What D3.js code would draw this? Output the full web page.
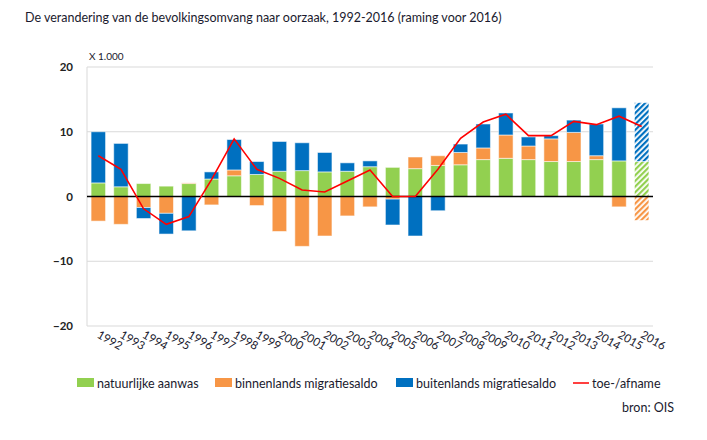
<!DOCTYPE html>
<html>
<head>
<meta charset="UTF-8">
<title></title>
<script src="https://cdn.jsdelivr.net/npm/d3@7"></script>
<style>
    body{margin:0;background:#fff;}
    text{font-family:Lato,"Open Sans",sans-serif;fill:#1a1a2e;}
    .grid line{stroke:#d9d9d9;stroke-width:1px;}
    .bar{stroke:rgba(255,255,255,0.55);stroke-width:1px;}
</style>
</head>
<body>
<div id="chart"></div>
<script>
    var years=['1992','1993','1994','1995','1996','1997','1998','1999','2000','2001','2002','2003','2004',
        '2005','2006','2007','2008','2009','2010','2011','2012','2013','2014','2015','2016'];
    // natuurlijke aanwas
    var natuurlijk=[2.1,1.5,2.0,1.6,2.0,2.7,3.2,3.4,3.9,4.0,3.8,3.9,4.6,4.5,4.3,4.8,4.9,5.7,5.9,5.7,5.4,5.4,5.7,5.5,5.4];
    // binnenlands migratiesaldo
    var binnenlands=[-3.8,-4.3,-1.7,-2.6,0.1,-1.3,0.9,-1.4,-5.4,-7.7,-6.1,-3.0,-1.6,-0.4,1.8,1.5,1.9,1.8,3.6,2.1,3.5,4.5,0.6,-1.6,-3.7];
    // buitenlands migratiesaldo
    var buitenlands=[7.9,6.7,-1.7,-3.2,-5.3,1.1,4.7,2.0,4.6,4.3,3.0,1.3,0.9,-4.0,-6.1,-2.2,1.3,3.7,3.4,1.4,0.5,1.9,4.9,8.2,9.1];
    // toe-/afname
    var totaal=[6.3,4.2,-1.9,-4.3,-3.1,2.6,8.9,4.2,2.8,1.0,0.7,2.4,4.1,0.0,0.0,4.2,9.0,11.5,12.7,9.4,9.4,11.6,11.1,12.4,10.8];
    var yTicks=[-20,-10,0,10,20];
    var ramingJaar='2016';

    var seriesKeys=['natuurlijk','binnenlands','buitenlands'];
    var seriesNames=['natuurlijke aanwas','binnenlands migratiesaldo','buitenlands migratiesaldo'];
    var colors=['#92d050','#f79646','#0070c0'];

    var rows=years.map(function(y,i){
        return {jaar:y,natuurlijk:natuurlijk[i],binnenlands:binnenlands[i],buitenlands:buitenlands[i],totaal:totaal[i]};
    });

    var width=707,height=440;
    var margin={left:87,right:54,top:67,bottom:114};

    var svg=d3.select('#chart').append('svg')
            .attr('width',width)
            .attr('height',height);

    var defs=svg.append('defs');
    colors.forEach(function(c,i){
        var p=defs.append('pattern')
                .attr('id','hatch'+i)
                .attr('patternUnits','userSpaceOnUse')
                .attr('width',4).attr('height',4)
                .attr('patternTransform','rotate(45)');
        p.append('rect').attr('width',4).attr('height',4).attr('fill','#fff');
        p.append('rect').attr('width',2.2).attr('height',4).attr('fill',c);
    });

    var x=d3.scaleBand()
            .domain(years)
            .range([margin.left,width-margin.right])
            .paddingInner(0.36)
            .paddingOuter(0.18);
    var y=d3.scaleLinear()
            .domain([-20,20])
            .range([height-margin.bottom,margin.top]);

    // title
    svg.append('text')
            .attr('x',25).attr('y',22)
            .style('font-size','12.5px')
            .text('De verandering van de bevolkingsomvang naar oorzaak, 1992-2016 (raming voor 2016)');
    svg.append('text')
            .attr('x',89).attr('y',60)
            .style('font-size','10px')
            .text('X 1.000');

    // grid
    var grid=svg.append('g').attr('class','grid');
    grid.selectAll('line')
            .data(yTicks.filter(function(d){return d!==0;}))
            .enter().append('line')
            .attr('x1',margin.left).attr('x2',width-margin.right)
            .attr('y1',function(d){return y(d);})
            .attr('y2',function(d){return y(d);});
    svg.append('line')
            .attr('x1',margin.left).attr('x2',margin.left)
            .attr('y1',y(20)).attr('y2',y(-20))
            .style('stroke','#d9d9d9');

    var yAxis=d3.axisLeft(y).tickValues(yTicks).tickSize(0).tickPadding(14);
    var ga=svg.append('g').attr('transform','translate('+margin.left+',0)').call(yAxis);
    ga.select('.domain').remove();
    ga.selectAll('text').style('font-size','11.5px').style('font-weight','bold').style('fill','#222');

    // stacked bars
    var stack=d3.stack().keys(seriesKeys).offset(d3.stackOffsetDiverging);
    var stacked=stack(rows);

    var layers=svg.selectAll('g.layer')
            .data(stacked)
            .enter().append('g')
            .attr('class','layer');
    layers.each(function(s,si){
        d3.select(this).selectAll('rect')
                .data(s)
                .enter().append('rect')
                .attr('class','bar')
                .attr('x',function(d){return x(d.data.jaar);})
                .attr('width',x.bandwidth())
                .attr('y',function(d){return y(Math.max(d[0],d[1]));})
                .attr('height',function(d){return Math.abs(y(d[0])-y(d[1]));})
                .attr('fill',function(d){
                    return d.data.jaar===ramingJaar?'url(#hatch'+si+')':colors[si];
                });
    });

    // zero line
    svg.append('line')
            .attr('x1',margin.left).attr('x2',width-margin.right)
            .attr('y1',y(0)).attr('y2',y(0))
            .style('stroke','#000').style('stroke-width',1.5);

    // line
    var line=d3.line()
            .x(function(d){return x(d.jaar)+x.bandwidth()/2;})
            .y(function(d){return y(d.totaal);});
    svg.append('path')
            .datum(rows)
            .attr('d',line)
            .attr('fill','none')
            .attr('stroke','#ff0000')
            .attr('stroke-width',1.6);

    // x labels
    svg.selectAll('text.xlab')
            .data(years)
            .enter().append('text')
            .attr('class','xlab')
            .attr('text-anchor','start')
            .style('font-size','11.5px')
            .attr('transform',function(d){
                return 'translate('+(x(d)+x.bandwidth()/2-2)+',337) rotate(30)';
            })
            .text(function(d){return d;});

    // legend
    var legend=[
        {name:seriesNames[0],color:colors[0],x:77,type:'rect'},
        {name:seriesNames[1],color:colors[1],x:215,type:'rect'},
        {name:seriesNames[2],color:colors[2],x:396,type:'rect'},
        {name:'toe-/afname',color:'#ff0000',x:573,type:'line'}
    ];
    var lg=svg.selectAll('g.leg')
            .data(legend)
            .enter().append('g')
            .attr('class','leg')
            .attr('transform',function(d){return 'translate('+d.x+',383)';});
    lg.filter(function(d){return d.type==='rect';})
            .append('rect')
            .attr('x',0).attr('y',-5)
            .attr('width',17).attr('height',9)
            .attr('fill',function(d){return d.color;});
    lg.filter(function(d){return d.type==='line';})
            .append('line')
            .attr('x1',0).attr('x2',16)
            .attr('y1',0).attr('y2',0)
            .attr('stroke',function(d){return d.color;})
            .attr('stroke-width',1.5);
    lg.append('text')
            .attr('x',function(d){return d.type==='rect'?20:19;})
            .attr('y',4.5)
            .style('font-size','12.5px')
            .text(function(d){return d.name;});

    svg.append('text')
            .attr('x',674).attr('y',412)
            .attr('text-anchor','end')
            .style('font-size','12.5px')
            .text('bron: OIS');
</script>
</body>
</html>
